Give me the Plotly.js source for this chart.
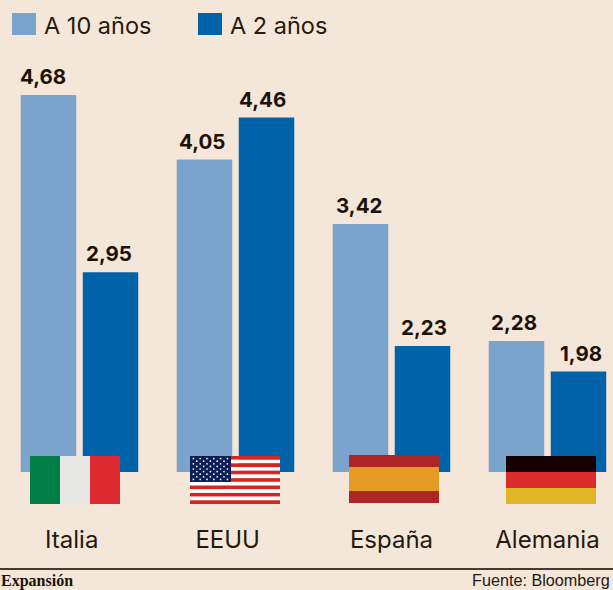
<!DOCTYPE html>
<html><head><meta charset="utf-8">
<script src="https://cdn.plot.ly/plotly-3.0.1.min.js"></script>
<style>html,body{margin:0;padding:0;background:#f5e6da;overflow:hidden}</style>
</head><body><div id="chart" style="width:613px;height:590px"></div>
<script>
const categories = ['Italia','EEUU','España','Alemania'];
const tenYear = [4.68,4.05,3.42,2.28];
const twoYear = [2.95,4.46,2.23,1.98];
const seriesNames = ['A 10 años','A 2 años'];
const labelOffsets = [-0.05,-0.05,0,0];
const tenYearNudge = [-6,-2.5,-1.5,-2.5];
const twoYearNudge = [-2,-3.5,1.5,2.5];
const W=613,H=590;
const px=x=>x/W, py=y=>1-y/H;
const LIGHT='#7ba4cc',DARK='#0062a8',INK='#231a10',BG='#f5e6da';
const FONT='Inter, Lato, sans-serif';

const svgUri=s=>'data:image/svg+xml;charset=utf-8,'+encodeURIComponent(s);
const wrap=b=>`<svg xmlns="http://www.w3.org/2000/svg" width="90" height="48" viewBox="0 0 90 48">${b}</svg>`;
const rect=(x,y,w,h,f)=>`<rect x="${x}" y="${y}" width="${w}" height="${h}" fill="${f}"/>`;
let us='';
for(let i=0;i<13;i++) us+=rect(0,i*48/13,90,48/13+0.05,i%2?'#ffffff':'#d8261f');
us+=rect(0,0,41,26,'#0b1f56');
for(let r=0;r<9;r++){const n=r%2?5:6;for(let c=0;c<n;c++){
  us+=`<circle cx="${(r%2?6.8:3.4)+c*6.8}" cy="${2.6+r*2.6}" r="0.85" fill="#ffffff"/>`;}}
const flags=[
 {x:30,y:456,s:wrap(rect(0,0,30,48,'#008046')+rect(30,0,30,48,'#e7e7e5')+rect(60,0,30,48,'#dc2a30'))},
 {x:190,y:456,s:wrap(us)},
 {x:349,y:455,s:wrap(rect(0,0,90,12,'#ad2524')+rect(0,12,90,24,'#e69b24')+rect(0,36,90,12,'#ad2524'))},
 {x:506,y:456,s:wrap(rect(0,0,90,16,'#140000')+rect(0,16,90,16,'#dc2b2b')+rect(0,32,90,16,'#dfb425'))}
];
const images=flags.map(f=>({source:svgUri(f.s),xref:'paper',yref:'paper',x:px(f.x),y:py(f.y),
  sizex:90/W,sizey:48/H,xanchor:'left',yanchor:'top',sizing:'stretch',layer:'above'}));

const barTrace=(name,vals,color)=>({type:'bar',name,x:categories,y:vals,marker:{color},
  hoverinfo:'skip',showlegend:false});

const fmt=v=>v.toFixed(2).replace('.',',');
const BAR_SHIFT=31;
const valueAnns=(vals,dir,nudge)=>vals.map((v,i)=>({xref:'x',yref:'y',x:categories[i],y:v,
  xanchor:'center',yanchor:'bottom',showarrow:false,xshift:dir*BAR_SHIFT+nudge[i],yshift:4,
  text:'<b>'+fmt(v)+'</b>',font:{family:FONT,size:20.5,color:'#1c1208'}}));

const legendAnn=(x,t)=>({xref:'paper',yref:'paper',x:px(x),y:py(25),xanchor:'left',yanchor:'middle',showarrow:false,
  text:t,font:{family:FONT,size:23.5,color:INK}});

const layout={
 width:W,height:H,margin:{l:0,r:0,t:0,b:0},paper_bgcolor:BG,plot_bgcolor:BG,
 separators:',.',barmode:'group',bargap:0.205,bargroupgap:0.105,showlegend:false,
 font:{family:FONT,color:INK},
 xaxis:{type:'category',categoryorder:'array',categoryarray:categories,range:[-0.5096,3.42],domain:[0,1],
   tickmode:'array',tickvals:categories.map((c,i)=>i+labelOffsets[i]),ticktext:categories,
   ticks:'',ticklabelstandoff:51,tickfont:{family:FONT,size:24,color:INK},
   showgrid:false,zeroline:false,showline:false},
 yaxis:{range:[1,5.608],domain:[py(472),1],visible:false,showgrid:false,zeroline:false},
 images,
 shapes:[
  {type:'rect',xref:'paper',yref:'paper',x0:px(12),x1:px(36),y0:py(13),y1:py(35),fillcolor:LIGHT,line:{width:0}},
  {type:'rect',xref:'paper',yref:'paper',x0:px(198),x1:px(222),y0:py(13),y1:py(35),fillcolor:DARK,line:{width:0}},
  {type:'line',xref:'paper',yref:'paper',x0:0,x1:1,y0:py(569),y1:py(569),line:{color:'#4a3a2e',width:2}}
 ],
 annotations:[
  legendAnn(42,seriesNames[0]),legendAnn(228,seriesNames[1]),
  ...valueAnns(tenYear,-1,tenYearNudge),...valueAnns(twoYear,1,twoYearNudge),
  {xref:'paper',yref:'paper',x:px(-1),y:py(581),xanchor:'left',yanchor:'middle',showarrow:false,text:'<b>Expansión</b>',
   font:{family:'"Liberation Serif",serif',size:16,color:'#1c1208'}},
  {xref:'paper',yref:'paper',x:px(470),y:py(580),xanchor:'left',yanchor:'middle',showarrow:false,text:'Fuente: Bloomberg',
   font:{family:'"Liberation Sans Narrow","Liberation Sans",sans-serif',size:16.2,color:INK}}
 ]
};
Plotly.newPlot('chart',[barTrace(seriesNames[0],tenYear,LIGHT),barTrace(seriesNames[1],twoYear,DARK)],layout,{displayModeBar:false,staticPlot:true});
</script></body></html>
